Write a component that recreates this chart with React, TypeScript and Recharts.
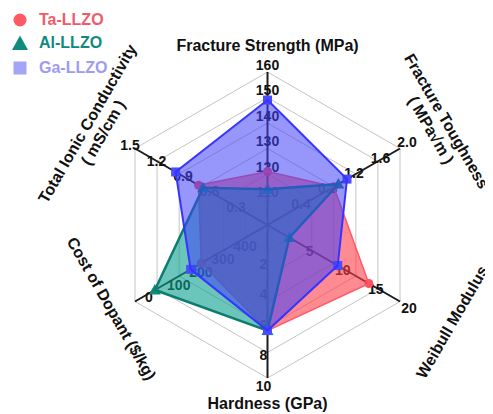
import React from 'react';
import { RadarChart, Radar, PolarGrid, PolarAngleAxis, PolarRadiusAxis } from 'recharts';

// ---------- data ----------
const axisNames = [
  'Fracture Strength (MPa)',
  'Fracture Toughness ( MPa√m )',
  'Weibull Modulus',
  'Hardness (GPa)',
  'Cost of Dopant ($/kg)',
  'Total Ionic Conductivity ( mS/cm )',
];
const axisTitleLines = [
  ['Fracture Strength (MPa)'],
  ['Fracture Toughness', '( MPa√m )'],
  ['Weibull Modulus'],
  ['Hardness (GPa)'],
  ['Cost of Dopant ($/kg)'],
  ['Total Ionic Conductivity', '( mS/cm )'],
];
const axisMin = [100, 0, 0, 0, 600, 0];
const axisMax = [160, 2.0, 20, 10, 0, 1.5];
const axisTickValues = [
  [110, 120, 130, 140, 150, 160],
  [0.4, 0.8, 1.2, 1.6, 2.0],
  [5, 10, 15, 20],
  [2, 4, 6, 8, 10],
  [0, 100, 200, 300, 400],
  [0.3, 0.6, 0.9, 1.2, 1.5],
];
const axisDecimals = [0, 1, 0, 0, 0, 1];
const gridRings = 6;

const seriesNames = ['Ta-LLZO', 'Al-LLZO', 'Ga-LLZO'];
const taValues = [121, 1.0, 15.3, 6.9, 300, 0.78];
const alValues = [114, 1.07, 3.3, 6.9, 90, 0.73];
const gaValues = [149, 1.2, 10.6, 6.9, 252, 1.04];

// ---------- helpers ----------
const norm = (v: number, i: number) => (v - axisMin[i]) / (axisMax[i] - axisMin[i]);

const data = axisNames.map((name, i) => ({
  axis: name,
  ta: norm(taValues[i], i),
  al: norm(alValues[i], i),
  ga: norm(gaValues[i], i),
}));

const FONT = '"Liberation Sans", Arial, Helvetica, sans-serif';

const radiusTickStyle = [
  { dx: 0, dy: -7, anchor: 'middle' },
  { dx: 7, dy: -6, anchor: 'middle' },
  { dx: 9, dy: 7, anchor: 'middle' },
  { dx: -4, dy: 8, anchor: 'middle' },
  { dx: 10, dy: -4, anchor: 'start' },
  { dx: -5, dy: -3, anchor: 'middle' },
];

const makeRadiusTick = (i: number) => (props: any) => {
  const { x, y, payload } = props;
  if (!payload || Math.abs(payload.value) < 1e-9) return <g />;
  const v = axisMin[i] + payload.value * (axisMax[i] - axisMin[i]);
  const s = radiusTickStyle[i];
  return (
    <text
      x={x + s.dx}
      y={y + s.dy}
      dy="0.35em"
      textAnchor={s.anchor as any}
      fontSize={14}
      fontWeight="bold"
      fontFamily={FONT}
      fill="#111"
    >
      {v.toFixed(axisDecimals[i])}
    </text>
  );
};

const titleLayout = [
  { dx: 0, dy: -19, rot: 0 },
  { dx: 32, dy: -19, rot: 60 },
  { dx: 45, dy: 16.5, rot: -60 },
  { dx: 0, dy: 17, rot: 0 },
  { dx: -16.5, dy: 3, rot: 60 },
  { dx: -33, dy: -16.5, rot: -60 },
];

const AngleTick = (props: any) => {
  const { x, y, index } = props;
  const L = titleLayout[index];
  const lines = axisTitleLines[index];
  const lh = 18;
  return (
    <text
      transform={`translate(${x + L.dx},${y + L.dy}) rotate(${L.rot})`}
      textAnchor="middle"
      fontSize={16}
      fontWeight="bold"
      fontFamily={FONT}
      fill="#111"
    >
      {lines.map((ln, k) => (
        <tspan key={k} x={0} y={(k - (lines.length - 1) / 2) * lh} dy="0.35em">
          {ln}
        </tspan>
      ))}
    </text>
  );
};

const colors = {
  taFill: '#ff3d4a',
  taStroke: '#ff5a6a',
  taDot: '#ff4f5e',
  alFill: '#0a9e8e',
  alStroke: '#0b7d70',
  alDot: '#0e8a7c',
  gaFill: '#4040f8',
  gaStroke: '#3535ff',
  gaDot: '#4b4bff',
};

const TaDot = (p: any) => <circle key={`ta${p.index}`} cx={p.cx} cy={p.cy} r={4.5} fill={colors.taDot} />;
const AlDot = (p: any) => (
  <path
    key={`al${p.index}`}
    d={`M${p.cx},${p.cy - 6} L${p.cx + 6},${p.cy + 4.5} L${p.cx - 6},${p.cy + 4.5} Z`}
    fill={colors.alDot}
  />
);
const GaDot = (p: any) => (
  <rect key={`ga${p.index}`} x={p.cx - 4.5} y={p.cy - 4.5} width={9} height={9} fill={colors.gaDot} />
);

const legendItems = [
  { name: seriesNames[0], color: '#f2596a', icon: 'circle', iconColor: '#ff5a64' },
  { name: seriesNames[1], color: '#0f8a7c', icon: 'triangle', iconColor: '#0f8b7d' },
  { name: seriesNames[2], color: '#9d9bf2', icon: 'square', iconColor: '#a5a5f8' },
];

const LegendIcon = ({ kind, color }: { kind: string; color: string }) => (
  <svg width={18} height={18} style={{ display: 'block' }}>
    {kind === 'circle' && <circle cx={9} cy={9} r={6.5} fill={color} />}
    {kind === 'triangle' && <path d="M9,1.5 L17,16 L1,16 Z" fill={color} />}
    {kind === 'square' && <rect x={2.5} y={2.5} width={13} height={13} fill={color} />}
  </svg>
);

export default function App() {
  const ringTicks = Array.from({ length: gridRings + 1 }, (_, k) => k / gridRings);
  const radarZ: any = { zIndex: 600 };
  return (
    <div style={{ position: 'relative', width: 485, height: 406, fontFamily: FONT }}>
      <RadarChart
        width={485}
        height={406}
        data={data}
        cx={259.5}
        cy={217}
        outerRadius={153}
        margin={{ top: 0, right: 0, bottom: 0, left: 0 }}
      >
        <PolarGrid gridType="polygon" stroke="#c4c4c4" strokeWidth={1} />
        <PolarRadiusAxis
          angle={90}
          domain={[0, 1]}
          type="number"
          allowDataOverflow
          ticks={ringTicks as any}
          tick={false}
          tickLine={false}
          axisLine={false}
        />
        {axisNames.map((name, i) => (
          <PolarRadiusAxis
            key={name}
            radiusAxisId={i + 1}
            angle={90 - 60 * i}
            domain={[0, 1]}
            type="number"
            allowDataOverflow
            ticks={[0, ...axisTickValues[i].map((v) => norm(v, i))] as any}
            tick={makeRadiusTick(i)}
            tickLine={false}
            axisLine={{ stroke: '#1c1c1c', strokeWidth: 2 }}
          />
        ))}
        <PolarAngleAxis dataKey="axis" tick={AngleTick} tickLine={false} axisLine={false} />
        <Radar
          name={seriesNames[0]}
          dataKey="ta"
          stroke={colors.taStroke}
          strokeWidth={1.5}
          fill={colors.taFill}
          fillOpacity={0.6}
          dot={TaDot}
          isAnimationActive={false}
          {...radarZ}
        />
        <Radar
          name={seriesNames[1]}
          dataKey="al"
          stroke={colors.alStroke}
          strokeWidth={2.5}
          fill={colors.alFill}
          fillOpacity={0.6}
          dot={AlDot}
          isAnimationActive={false}
          {...radarZ}
        />
        <Radar
          name={seriesNames[2]}
          dataKey="ga"
          stroke={colors.gaStroke}
          strokeWidth={2}
          fill={colors.gaFill}
          fillOpacity={0.55}
          dot={GaDot}
          isAnimationActive={false}
          {...radarZ}
        />
      </RadarChart>
      <div style={{ position: 'absolute', left: 0, top: 0 }}>
        {legendItems.map((it, k) => (
          <div
            key={it.name}
            style={{
              position: 'absolute',
              left: 3,
              top: [3, 26, 51][k],
              height: 18,
              display: 'flex',
              alignItems: 'center',
              whiteSpace: 'nowrap',
            }}
          >
            <LegendIcon kind={it.icon} color={it.iconColor} />
            <span
              style={{
                marginLeft: 10,
                color: it.color,
                fontSize: 16,
                fontWeight: 'bold',
                fontFamily: FONT,
                lineHeight: '18px',
              }}
            >
              {it.name}
            </span>
          </div>
        ))}
      </div>
    </div>
  );
}
